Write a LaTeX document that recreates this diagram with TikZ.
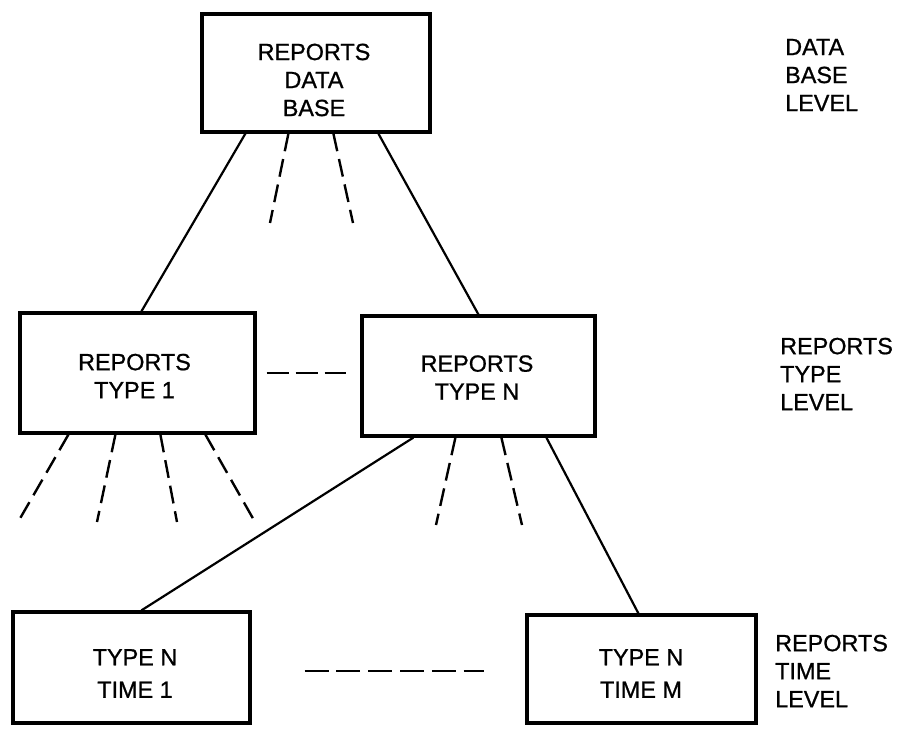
\documentclass[tikz,border=0pt]{standalone}
\usepackage{fontspec}
\setmainfont{Liberation Sans}[FakeBold=0.9]
\begin{document}
\begin{tikzpicture}[x=1pt,y=-1pt,
  box/.style={draw, line width=3.2pt, inner sep=0pt},
  txt/.style={align=center, inner sep=0pt, font=\fontsize{23.4}{28}\selectfont},
  txtb/.style={align=center, inner sep=0pt, font=\fontsize{23.4}{32.5}\selectfont},
  lvl/.style={align=left, anchor=west, inner sep=0pt, font=\fontsize{23.4}{28}\selectfont},
  conn/.style={line width=2.2pt},
  dconn/.style={line width=2.4pt, dash pattern=on 18pt off 8pt},
  hdash/.style={line width=2.6pt, dash pattern=on 22pt off 7pt},
  hdashb/.style={line width=2.6pt, dash pattern=on 24pt off 7.8pt}]
\useasboundingbox (0,0) rectangle (898,733);

% boxes
\node[box, minimum width=228pt, minimum height=118pt] (db) at (316,73) {};
\node[txt] (dbt) at (314,80) {REPORTS\\DATA\\BASE};
\node[box, minimum width=235pt, minimum height=120pt] (t1) at (137.5,373) {};
\node[txt] (t1t) at (134.5,376) {REPORTS\\TYPE 1};
\node[box, minimum width=233pt, minimum height=120pt] (tn) at (478.5,376) {};
\node[txt] (tnt) at (477,377.5) {REPORTS\\TYPE N};
\node[box, minimum width=237pt, minimum height=111pt] (m1) at (131.5,667.5) {};
\node[txtb] (m1t) at (135,673.5) {TYPE N\\TIME 1};
\node[box, minimum width=229pt, minimum height=108pt] (mm) at (641.5,669) {};
\node[txtb] (mmt) at (641,673.5) {TYPE N\\TIME M};

% level labels
\node[lvl] (l1) at (785,75) {DATA\\BASE\\LEVEL};
\node[lvl] (l2) at (780,374) {REPORTS\\TYPE\\LEVEL};
\node[lvl] (l3) at (775,671) {REPORTS\\TIME\\LEVEL};

% free ends of dashed stubs
\coordinate (e1) at (270,223);
\coordinate (e2) at (353,223);
\coordinate (e3) at (18,522);
\coordinate (e4) at (97,522);
\coordinate (e5) at (177,522);
\coordinate (e6) at (255,522);
\coordinate (e7) at (436,525);
\coordinate (e8) at (522,525);

% solid connectors
\draw[conn] ([xshift=45pt]db.south west) -- ([xshift=123pt]t1.north west);
\draw[conn] ([xshift=178pt]db.south west) -- ([xshift=118pt]tn.north west);
\draw[conn] ([xshift=53pt]tn.south west) -- ([xshift=130pt]m1.north west);
\draw[conn] ([xshift=186pt]tn.south west) -- ([xshift=113pt]mm.north west);

% dashed stubs
\draw[dconn] ([xshift=88pt]db.south west) -- (e1);
\draw[dconn] ([xshift=133pt]db.south west) -- (e2);
\draw[dconn] ([xshift=50pt]t1.south west) -- (e3);
\draw[dconn] ([xshift=97pt]t1.south west) -- (e4);
\draw[dconn] ([xshift=142pt]t1.south west) -- (e5);
\draw[dconn] ([xshift=187pt]t1.south west) -- (e6);
\draw[dconn] ([xshift=95pt]tn.south west) -- (e7);
\draw[dconn] ([xshift=141pt]tn.south west) -- (e8);

% horizontal dashed links
\draw[hdash, shorten <=10pt, shorten >=14pt] (t1.east) -- (t1.east -| tn.west);
\draw[hdashb, shorten <=53pt, shorten >=41pt] ([yshift=-3.5pt]m1.east) -- ([yshift=-3.5pt]m1.east -| mm.west);
\end{tikzpicture}
\end{document}
